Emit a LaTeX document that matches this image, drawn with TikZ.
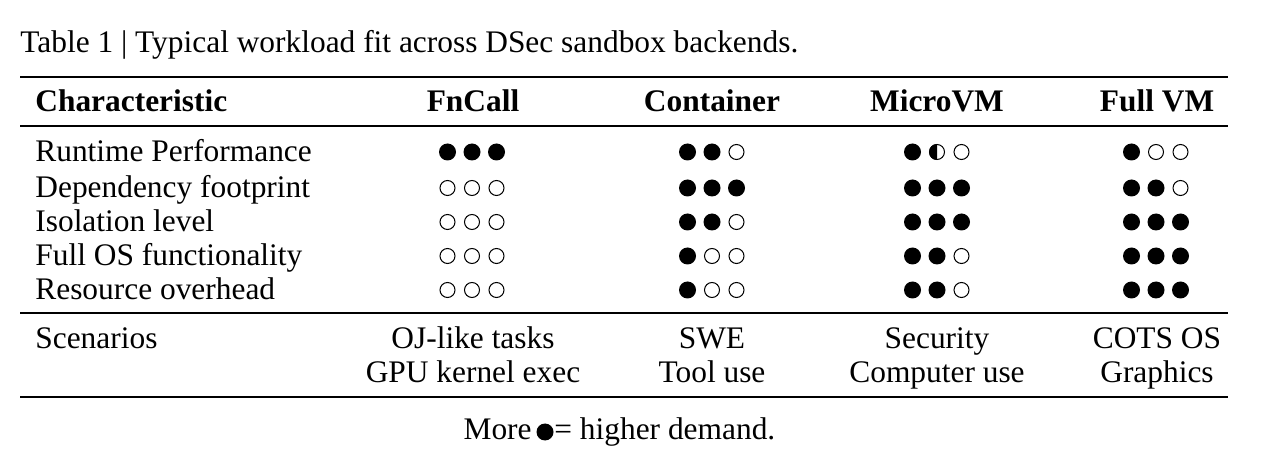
\documentclass[tikz,border=0pt]{standalone}
\usepackage{fontspec}
\setmainfont{Liberation Serif}
\usepackage{tikz}

\begin{document}
\begin{tikzpicture}[x=0.5pt, y=-0.5pt,
		font=\fontsize{15.7}{18}\selectfont,
		rulethick/.style={line width=1.35pt},
		rulethin/.style={line width=0.8pt},
		dotempty/.style={draw=black, line width=0.5pt},
		cell/.style={anchor=base, inner sep=0},
		lcell/.style={anchor=base west, inner sep=0}]
		\useasboundingbox (0, 0) rectangle (1286, 454);
		\node[lcell] (title) at (20, 53) {Table 1 | Typical workload fit across DSec sandbox backends.};
		% rules
		\foreach \ry/\rs in {77/rulethick, 126/rulethin, 313/rulethin, 397/rulethick}
		{
			\coordinate (rule-\ry-l) at (20, \ry);
			\coordinate (rule-\ry-r) at (1228, \ry);
			\draw[\rs] (rule-\ry-l) -- (rule-\ry-r);
		}
		% header
		\node[lcell] (char) at (35, 112) {\bfseries Characteristic};
		\node[cell] (fncall) at (473, 112) {\bfseries FnCall};
		\node[cell] (container) at (712, 112) {\bfseries Container};
		\node[cell] (microvm) at (937, 112) {\bfseries MicroVM};
		\node[cell] (fullvm) at (1157, 112) {\bfseries Full VM};
		% ratings: 2 = full, 1 = half, 0 = empty
		\foreach \rowy/\label/\va/\vb/\vc/\vd in {
			152/Runtime Performance/222/220/210/200,
			188/Dependency footprint/000/222/222/220,
			222/Isolation level/000/220/222/222,
			256/Full OS functionality/000/200/220/222,
			290/Resource overhead/000/200/220/222}
		{
			\node[lcell] (row-\rowy) at (35, \rowy+10) {\label};
			\foreach \colx/\val in {472/\va, 712/\vb, 937/\vc, 1156/\vd}
				\foreach \k in {1, 2, 3}
				{
					\pgfmathtruncatemacro\lvl{mod(floor(\val/10^(3-\k)), 10)}
					\pgfmathsetmacro\dotx{\colx+(\k-2)*24.5}
					\coordinate (dot) at (\dotx, \rowy);
					\ifnum\lvl=2 \fill (dot) circle (4.25pt); \fi
					\ifnum\lvl=1
						\fill (dot) ++(90:4pt) arc[start angle=90, end angle=270, radius=4pt] -- cycle;
						\draw[dotempty] (dot) circle (3.75pt);
					\fi
					\ifnum\lvl=0 \draw[dotempty] (dot) circle (3.75pt); \fi
				}
		}
		% scenarios
		\node[lcell] (scen) at (35, 349) {Scenarios};
		\node[cell] (scen-a1) at (473, 349) {OJ-like tasks};
		\node[cell] (scen-a2) at (473, 383) {GPU kernel exec};
		\node[cell] (scen-b1) at (712, 349) {SWE};
		\node[cell] (scen-b2) at (712, 383) {Tool use};
		\node[cell] (scen-c1) at (937, 349) {Security};
		\node[cell] (scen-c2) at (937, 383) {Computer use};
		\node[cell] (scen-d1) at (1157, 349) {COTS OS};
		\node[cell] (scen-d2) at (1157, 383) {Graphics};
		% note
		\node[anchor=base east, inner sep=0] (more) at (532, 439) {More};
		\coordinate (notedot) at (545, 432);
		\fill (notedot) circle (4.25pt);
		\node[lcell] (demand) at (554, 439) {= higher demand.};
	\end{tikzpicture}
\end{document}
